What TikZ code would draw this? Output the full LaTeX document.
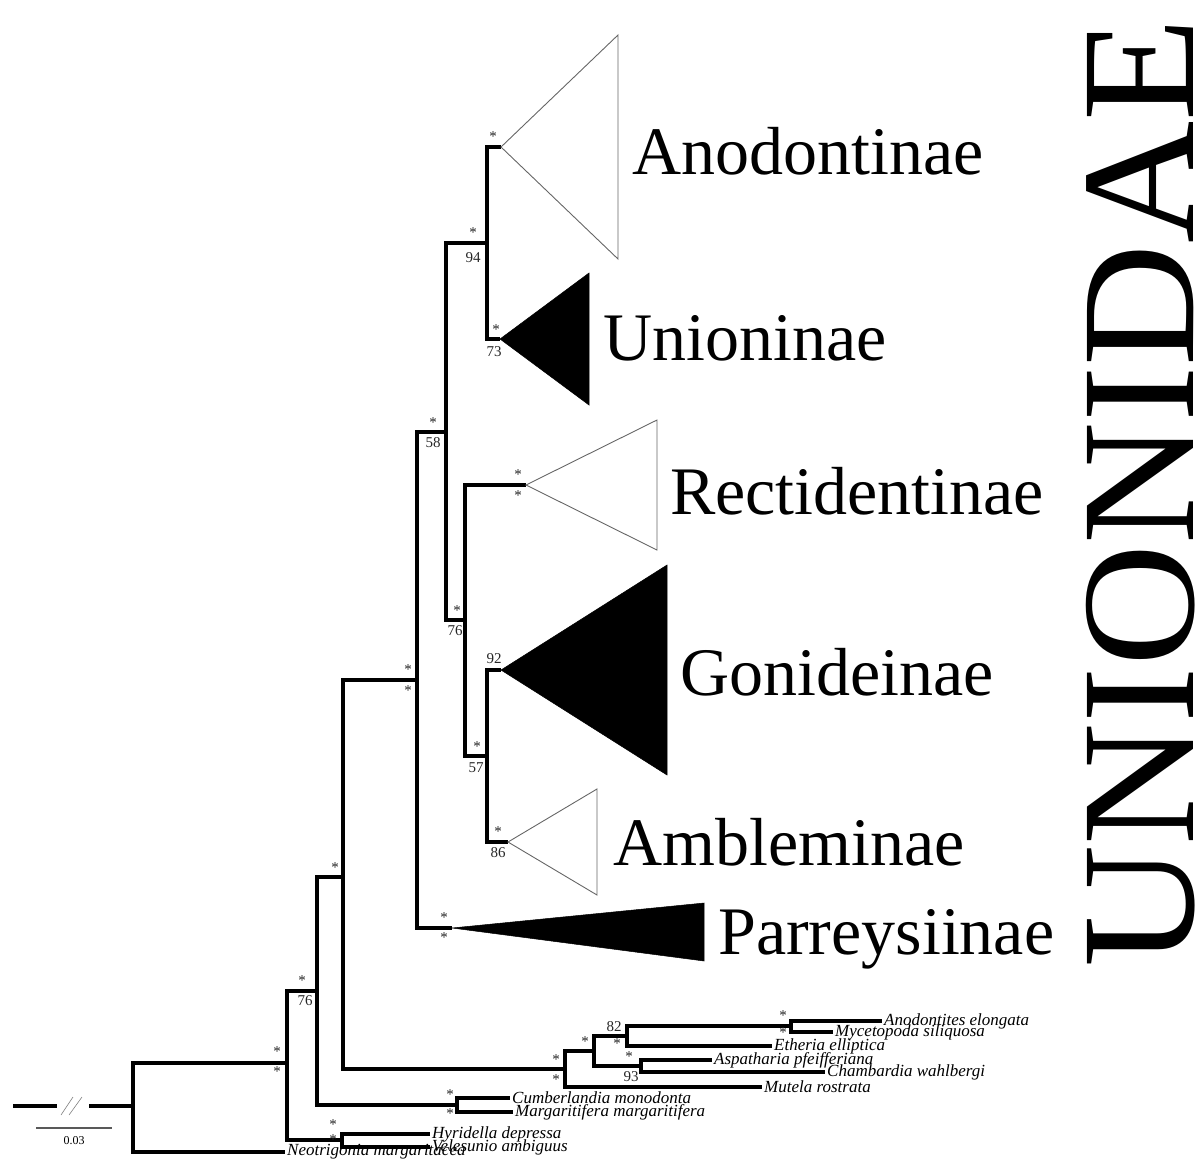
\documentclass[tikz,border=0pt]{standalone}
\usepackage{fontspec}
\usepackage{graphicx}
\setmainfont{Liberation Serif}
\usetikzlibrary{positioning}

\tikzset{
  tree/.style={line width=3.4pt, line join=miter},
  openclade/.style={draw=black!60, line width=0.9pt},
  fullclade/.style={draw=black, fill=black, line width=0.5pt},
  sup/.style={font=\fontsize{15}{15}\selectfont, inner sep=0pt, text=black!85},
  taxon/.style={font=\fontsize{17}{17}\selectfont\itshape, inner sep=0pt, anchor=west},
  cladename/.style={font=\fontsize{68}{68}\selectfont, inner sep=0pt, anchor=base west}
}

\begin{document}
\begin{tikzpicture}[x=1pt, y=-1pt]
\useasboundingbox (0,0) rectangle (1203,1160);

% internal nodes of the tree
\coordinate (root) at (133,1106);
\coordinate (n1)   at (287,1063);
\coordinate (n76)  at (317,991);
\coordinate (nhyr) at (342,1140);
\coordinate (ncum) at (457,1105);
\coordinate (nS)   at (343,877);
\coordinate (nafr) at (565,1069);
\coordinate (nB)   at (594,1051);
\coordinate (nC)   at (627,1036);
\coordinate (nD)   at (641,1066);
\coordinate (nE)   at (791,1026);
\coordinate (nU)   at (417,680);
\coordinate (n58)  at (446,432);
\coordinate (n94)  at (487,243);
\coordinate (n76b) at (465,620);
\coordinate (n57)  at (487,756);

% leaf ends
\coordinate (neo)  at (285,1152);
\coordinate (hyr)  at (430,1134);
\coordinate (vel)  at (430,1147);
\coordinate (cum)  at (510,1098);
\coordinate (mar)  at (513,1112);
\coordinate (mut)  at (762,1087);
\coordinate (eth)  at (772,1046);
\coordinate (ano)  at (882,1021);
\coordinate (myc)  at (833,1032);
\coordinate (asp)  at (712,1060);
\coordinate (cha)  at (825,1072);

% clade apexes
\coordinate (anod) at (501,147);
\coordinate (unio) at (500,339);
\coordinate (rect) at (526,485);
\coordinate (goni) at (501,670);
\coordinate (ambl) at (508,842);
\coordinate (parr) at (452,928);

% root stub with break and scale
\coordinate (stubL) at (13,1106);
\coordinate (stubA) at (57,1106);
\coordinate (stubB) at (89,1106);
\draw[tree] (stubL) -- (stubA);
\draw[tree] (stubB) -- (root);
\draw[black!50, line width=0.6pt] (61,1115) -- (73,1097) (69,1115) -- (82,1097);
\coordinate (barL) at (36,1128);
\coordinate (barR) at (112,1128);
\draw[black!65, line width=1.3pt] (barL) -- (barR);
\node[font=\fontsize{12}{12}\selectfont, inner sep=0pt] (scale) at (74,1141) {0.03};

% branches
\draw[tree] (root) |- (n1);
\draw[tree] (root) |- (neo);
\draw[tree] (n1) |- (n76);
\draw[tree] (n1) |- (nhyr);
\draw[tree] (nhyr) |- (hyr);
\draw[tree] (nhyr) |- (vel);
\draw[tree] (n76) |- (nS);
\draw[tree] (n76) |- (ncum);
\draw[tree] (ncum) |- (cum);
\draw[tree] (ncum) |- (mar);
\draw[tree] (nS) |- (nU);
\draw[tree] (nS) |- (nafr);
\draw[tree] (nafr) |- (nB);
\draw[tree] (nafr) |- (mut);
\draw[tree] (nB) |- (nC);
\draw[tree] (nB) |- (nD);
\draw[tree] (nC) |- (nE);
\draw[tree] (nC) |- (eth);
\draw[tree] (nE) |- (ano);
\draw[tree] (nE) |- (myc);
\draw[tree] (nD) |- (asp);
\draw[tree] (nD) |- (cha);
\draw[tree] (nU) |- (n58);
\draw[tree] (nU) |- (parr);
\draw[tree] (n58) |- (n94);
\draw[tree] (n58) |- (n76b);
\draw[tree] (n94) |- (anod);
\draw[tree] (n94) |- (unio);
\draw[tree] (n76b) |- (rect);
\draw[tree] (n76b) |- (n57);
\draw[tree] (n57) |- (goni);
\draw[tree] (n57) |- (ambl);

% collapsed clades
\draw[openclade] (anod) -- (618,35) -- (618,259) -- cycle;
\draw[fullclade] (unio) -- (589,273) -- (589,405) -- cycle;
\draw[openclade] (rect) -- (657,420) -- (657,550) -- cycle;
\draw[fullclade] (goni) -- (667,565) -- (667,775) -- cycle;
\draw[openclade] (ambl) -- (597,789) -- (597,895) -- cycle;
\draw[fullclade] (parr) -- (704,903) -- (704,961) -- cycle;

\node[cladename] (lanod) at (632,174) {Anodontinae};
\node[cladename] (lunio) at (603,360) {Unioninae};
\node[cladename] (lrect) at (670,514) {Rectidentinae};
\node[cladename] (lgoni) at (680,695) {Gonideinae};
\node[cladename] (lambl) at (613,865) {Ambleminae};
\node[cladename] (lparr) at (718,954) {Parreysiinae};

% family name
\node[rotate=90, anchor=base west, inner sep=0pt, font=\fontsize{162}{162}\selectfont] (fam) at (1193,968) {\raisebox{0pt}[\height][0pt]{\scalebox{1.045}[1]{UNIONIDAE}}};

% taxa
\node[taxon, right=2pt of neo] (tneo) {Neotrigonia margaritacea};
\node[taxon, right=2pt of hyr] (thyr) {Hyridella depressa};
\node[taxon, right=2pt of vel] (tvel) {Velesunio ambiguus};
\node[taxon, right=2pt of cum] (tcum) {Cumberlandia monodonta};
\node[taxon, right=2pt of mar] (tmar) {Margaritifera margaritifera};
\node[taxon, right=2pt of mut] (tmut) {Mutela rostrata};
\node[taxon, right=2pt of eth] (teth) {Etheria elliptica};
\node[taxon, right=2pt of ano] (tano) {Anodontites elongata};
\node[taxon, right=2pt of myc] (tmyc) {Mycetopoda siliquosa};
\node[taxon, right=2pt of asp] (tasp) {Aspatharia pfeifferiana};
\node[taxon, right=2pt of cha] (tcha) {Chambardia wahlbergi};

% support values
\node[sup] (s1a) at (277,1052) {*};
\node[sup] (s1b) at (277,1072) {*};
\node[sup] (s2a) at (302,981) {*};
\node[sup] (s2b) at (305,1001) {76};
\node[sup] (s3a) at (333,1125) {*};
\node[sup] (s3b) at (333,1140) {*};
\node[sup] (s4a) at (450,1095) {*};
\node[sup] (s4b) at (450,1114) {*};
\node[sup] (s5a) at (335,868) {*};
\node[sup] (s6a) at (556,1060) {*};
\node[sup] (s6b) at (556,1080) {*};
\node[sup] (s7a) at (585,1042) {*};
\node[sup] (s8a) at (614,1027) {82};
\node[sup] (s8b) at (617,1044) {*};
\node[sup] (s9a) at (629,1057) {*};
\node[sup] (s9b) at (631,1077) {93};
\node[sup] (s10a) at (783,1016) {*};
\node[sup] (s10b) at (783,1033) {*};
\node[sup] (s11a) at (408,670) {*};
\node[sup] (s11b) at (408,691) {*};
\node[sup] (s12a) at (433,423) {*};
\node[sup] (s12b) at (433,443) {58};
\node[sup] (s13a) at (473,233) {*};
\node[sup] (s13b) at (473,258) {94};
\node[sup] (s14a) at (493,137) {*};
\node[sup] (s15a) at (496,330) {*};
\node[sup] (s15b) at (494,352) {73};
\node[sup] (s16a) at (457,611) {*};
\node[sup] (s16b) at (455,631) {76};
\node[sup] (s17a) at (518,475) {*};
\node[sup] (s17b) at (518,496) {*};
\node[sup] (s18a) at (494,659) {92};
\node[sup] (s19a) at (477,747) {*};
\node[sup] (s19b) at (476,768) {57};
\node[sup] (s20a) at (498,832) {*};
\node[sup] (s20b) at (498,853) {86};
\node[sup] (s21a) at (444,918) {*};
\node[sup] (s21b) at (444,938) {*};
\end{tikzpicture}
\end{document}
